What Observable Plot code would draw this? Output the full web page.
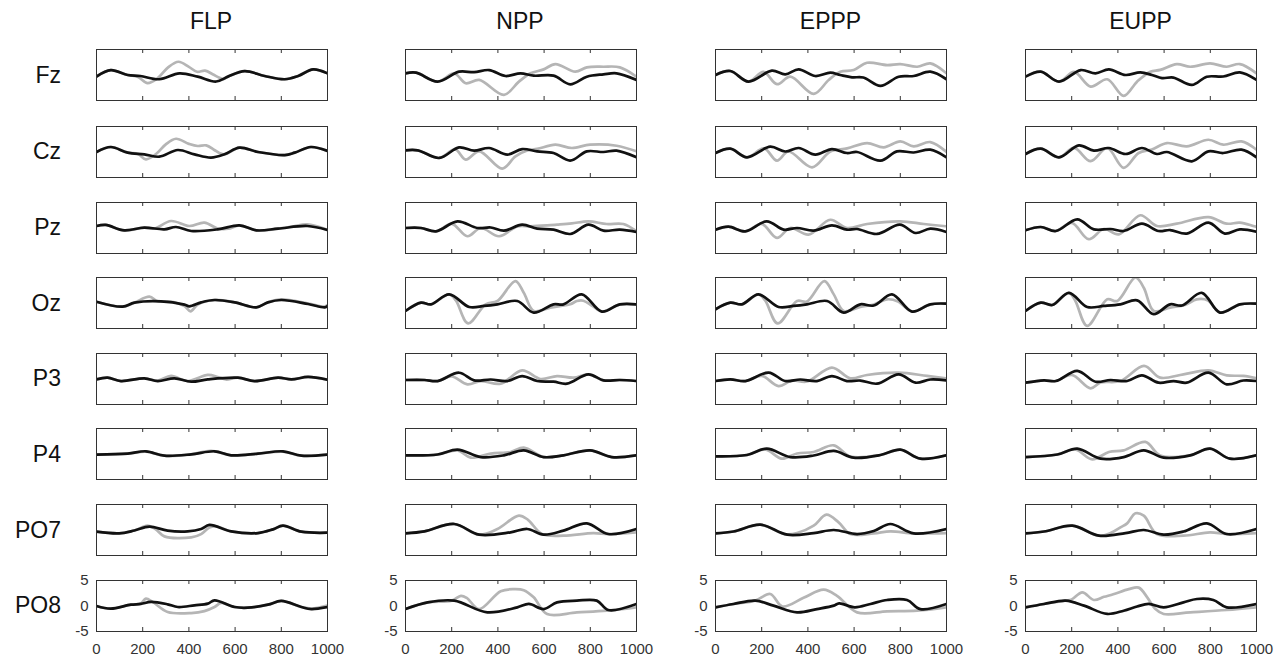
<!DOCTYPE html>
<html><head><meta charset="utf-8">
<script src="https://cdn.jsdelivr.net/npm/d3@7"></script>
<script src="https://cdn.jsdelivr.net/npm/@observablehq/plot@0.6"></script>
<style>
body{margin:0;background:#fff;font-family:"Liberation Sans",Arial,sans-serif}
#chart{position:relative;width:1283px;height:658px;overflow:hidden}
.lbl{position:absolute;font-size:23px;line-height:24px;color:#111;white-space:nowrap}
.pan{position:absolute}
</style></head><body><div id="chart"></div>
<script>
const conditions = ["FLP","NPP","EPPP","EUPP"];
const channels = ["Fz","Cz","Pz","Oz","P3","P4","PO7","PO8"];
const xTicks = [0,200,400,600,800,1000];
const yTicks = [-5,0,5];

// each series: [time (ms), amplitude] key points, one list per channel (Fz..PO8)
const FLP_black = [
 [[0,-0.3],[62,0.96],[135,0],[190,-0.2],[272,-0.83],[359,0.32],[438,-0.32],[518,-1.28],[569,-0.32],[641,0.77],[728,-0.19],[815,-0.83],[873,-0.19],[938,1.09],[1000,0.32]],
 [[0,0],[62,0.98],[135,-0.13],[207,-0.46],[272,-0.92],[352,0.39],[424,-0.46],[496,-1.1],[554,-0.46],[619,0.85],[699,0],[815,-0.6],[858,-0.13],[928,0.98],[1000,0.2]],
 [[0,0.39],[40,0.6],[120,-0.46],[207,0.07],[294,-0.26],[344,0.2],[410,-0.59],[525,-0.26],[619,0.52],[692,-0.46],[786,-0.13],[913,0.39],[1000,-0.39]],
 [[0,0.26],[113,-0.72],[164,0.07],[279,0.33],[381,-0.33],[402,-0.65],[453,0.13],[511,0.59],[598,0.13],[692,-0.85],[742,0.13],[800,0.59],[916,-0.2],[988,-0.85],[1000,-0.6]],
 [[0,-0.07],[48,0.26],[106,-0.4],[207,0.13],[265,-0.4],[337,0.13],[410,-0.53],[482,-0.07],[612,0.26],[684,-0.4],[786,0.26],[844,-0.07],[916,0.4],[1000,-0.13]],
 [[0,-0.13],[135,0.07],[214,0.53],[294,-0.33],[410,-0.07],[511,0.53],[583,-0.26],[699,0.07],[807,0.53],[887,-0.33],[1000,-0.13]],
 [[0,-0.33],[98,-0.66],[164,-0.1],[229,0.66],[308,-0.13],[395,-0.26],[453,0.2],[489,0.99],[583,-0.26],[699,-0.6],[764,0.13],[807,0.86],[887,-0.33],[1000,-0.53]],
 [[0,0],[62,-0.53],[149,0.26],[192,0.4],[236,0.8],[308,0.33],[352,-0.2],[424,0.13],[482,0.46],[511,1.12],[598,-0.2],[655,-0.33],[742,0.26],[800,0.99],[887,-0.2],[930,-0.6],[1000,-0.2]]
];
const FLP_gray = [
 [[0,-0.3],[62,0.96],[135,0],[180,-0.4],[221,-1.6],[265,-0.6],[310,1.5],[355,2.6],[400,1.6],[435,0.64],[470,0.85],[505,0.1],[530,-0.5],[550,-0.8],[569,-0.32],[641,0.77],[728,-0.19],[815,-0.83],[873,-0.19],[938,1.09],[1000,0.32]],
 [[0,0],[62,0.98],[135,-0.13],[180,-0.4],[214,-1.44],[260,-0.3],[300,1.5],[344,2.6],[400,1.6],[438,1.18],[475,1.3],[510,0.4],[532,-0.2],[554,-0.46],[619,0.85],[699,0],[815,-0.6],[858,-0.13],[928,0.98],[1000,0.2]],
 [[0,0.39],[40,0.6],[120,-0.46],[207,0.07],[250,-0.1],[323,1.37],[402,0.39],[467,1.05],[525,-0.1],[570,-0.15],[619,0.52],[692,-0.46],[786,-0.13],[850,0.3],[913,0.7],[1000,-0.39]],
 [[0,0.26],[113,-0.72],[164,0.07],[229,1.24],[265,0.33],[320,0.3],[381,-0.6],[407,-1.63],[438,-0.3],[511,0.59],[598,0.13],[692,-0.85],[742,0.13],[800,0.7],[916,-0.1],[988,-0.7],[1000,-0.4]],
 [[0,-0.07],[48,0.26],[106,-0.4],[207,0.13],[265,-0.3],[323,0.6],[395,-0.4],[482,0.8],[525,0.4],[560,-0.1],[612,0.26],[684,-0.4],[786,0.26],[844,-0.07],[916,0.4],[1000,-0.13]],
 [[0,-0.13],[135,0.07],[214,0.45],[294,-0.33],[410,-0.07],[496,0.6],[583,-0.26],[699,0.07],[807,0.45],[887,-0.33],[1000,-0.13]],
 [[0,-0.33],[98,-0.66],[164,-0.1],[221,0.86],[255,0.2],[294,-1.25],[410,-1.45],[453,-0.8],[489,0.5],[520,0.7],[583,-0.26],[699,-0.6],[764,0.13],[807,0.86],[887,-0.33],[1000,-0.53]],
 [[0,0],[62,-0.53],[149,0.26],[192,0.5],[214,1.45],[243,0.8],[308,-1.18],[410,-1.38],[467,-1],[511,-0.2],[540,0.6],[598,-0.2],[655,-0.33],[742,0.26],[800,0.99],[887,-0.2],[930,-0.5],[1000,0.1]]
];
const NPP_black = [
 [[0,0.33],[46,0.45],[139,-1.3],[232,0.65],[297,0.55],[362,0.97],[433,-0.2],[498,0.33],[555,-0.13],[641,-0.13],[713,-1.82],[785,-0.33],[857,0.13],[914,0.33],[1000,-0.97]],
 [[0,0.33],[53,0.33],[146,-1.17],[232,0.9],[297,0.26],[362,0.78],[441,-0.52],[505,0.58],[570,0.13],[641,-0.2],[713,-1.69],[785,0.13],[857,0],[914,0.26],[1000,-1.04]],
 [[0,0],[67,0],[132,-0.65],[225,1.3],[311,0],[369,0.1],[426,-0.52],[505,0.65],[570,-0.13],[641,-0.33],[713,-1.17],[792,0.65],[857,-0.52],[928,-0.33],[1000,-0.78]],
 [[0,-1.56],[67,0.07],[110,-0.26],[189,1.69],[276,-0.78],[340,-0.58],[398,-0.26],[484,0.39],[555,-1.88],[641,-0.26],[684,-0.26],[763,1.69],[850,-1.69],[928,-0.26],[1000,-0.26]],
 [[0,-0.2],[82,-0.2],[139,-0.4],[232,1.23],[297,-0.26],[369,-0.1],[441,-0.4],[505,0.58],[570,-0.4],[641,-0.53],[699,-0.92],[792,0.92],[857,-0.26],[928,-0.2],[1000,-0.4]],
 [[0,-0.26],[139,-0.1],[225,0.85],[326,-0.6],[426,-0.26],[512,0.72],[598,-0.6],[684,-0.26],[799,0.72],[893,-0.6],[1000,-0.26]],
 [[0,-0.66],[82,-0.26],[211,1.18],[319,-0.92],[455,-0.46],[527,0.2],[598,-0.92],[684,-0.13],[785,1.31],[878,-0.79],[1000,0.2]],
 [[0,-0.6],[96,0.72],[211,1.05],[354,-1.25],[484,-0.26],[534,0.4],[598,-0.6],[656,0.72],[742,1.05],[828,1.05],[878,-0.79],[1000,0.4]]
];
const NPP_gray = [
 [[0,0.33],[46,0.45],[139,-1.3],[211,0.3],[261,-1.62],[319,-0.97],[426,-3.9],[491,-1.3],[541,0.33],[598,1.1],[649,2.14],[735,0.65],[785,1.5],[857,1.62],[928,1.5],[1000,-0.33]],
 [[0,0.33],[53,0.33],[146,-1.17],[215,0.5],[261,-1.5],[319,0.13],[419,-3.25],[476,-0.84],[527,0.3],[570,0.6],[649,1.43],[720,0.78],[799,1.43],[914,1.23],[1000,0.13]],
 [[0,0],[67,0],[132,-0.65],[200,0.8],[268,-1.62],[326,0],[405,-1.62],[484,0.33],[541,0.33],[613,0.5],[656,0.65],[720,0.9],[792,1.3],[871,0.78],[943,0.78],[1000,-0.65]],
 [[0,-1.56],[67,0.07],[110,-0.26],[189,1.69],[218,0.5],[271,-4.0],[347,-0.26],[398,0.39],[476,4.3],[512,2.0],[555,-1.56],[627,-0.9],[713,-0.26],[742,0.39],[770,0.45],[810,-0.6],[850,-1.69],[928,-0.26],[1000,-0.26]],
 [[0,-0.2],[82,-0.2],[139,-0.4],[200,0.5],[268,-1.05],[326,-0.4],[412,-0.92],[505,1.7],[584,0],[656,0.58],[728,0.26],[792,0.92],[857,-0.26],[928,-0.2],[1000,-0.4]],
 [[0,-0.26],[139,-0.1],[225,0.7],[283,-0.72],[369,0.07],[455,0.4],[512,1.25],[598,-0.6],[684,-0.26],[799,0.72],[893,-0.6],[1000,-0.26]],
 [[0,-0.66],[82,-0.26],[211,1.18],[319,-0.92],[398,0.2],[491,2.83],[530,2.0],[591,-0.79],[684,-1.12],[813,-0.6],[878,-0.79],[1000,-0.46]],
 [[0,-0.6],[96,0.72],[200,1.05],[240,2.0],[265,1.6],[319,-0.6],[412,2.9],[470,3.3],[512,3.1],[555,1.7],[613,-1.58],[742,-1.25],[871,-0.92],[1000,-0.26]]
];
const EPPP_black = [
 [[0,0],[64,0.78],[143,-1.3],[244,0.84],[302,0.13],[360,1.1],[432,-0.2],[497,0.45],[540,0],[591,-0.45],[640,-0.5],[714,-2.14],[793,-0.33],[858,-0.2],[930,0.65],[1000,-0.84]],
 [[0,-0.2],[64,0.65],[136,-1.04],[237,1.04],[302,0.1],[360,0.78],[432,-0.52],[504,0.58],[569,-0.2],[613,0],[714,-1.69],[786,0.13],[858,-0.1],[930,0.45],[1000,-1.04]],
 [[0,-0.33],[56,0.26],[129,-0.65],[222,1.3],[295,-0.33],[353,0],[425,-0.52],[504,0.52],[569,-0.33],[613,-0.2],[699,-1.17],[798,0.65],[866,-0.98],[930,-0.13],[1000,-0.78]],
 [[0,-1.23],[64,0.07],[114,-0.26],[186,1.69],[273,-0.78],[338,-0.58],[396,-0.26],[483,0.39],[555,-1.88],[627,-0.26],[685,-0.5],[764,1.69],[851,-1.69],[930,-0.26],[1000,-0.13]],
 [[0,-0.4],[64,-0.07],[129,-0.4],[230,1.25],[302,-0.4],[367,-0.1],[439,-0.4],[504,0.58],[569,-0.4],[627,-0.3],[699,-0.92],[793,0.92],[866,-0.72],[930,-0.1],[1000,-0.26]],
 [[0,-0.46],[136,-0.2],[222,1.05],[324,-0.6],[425,-0.3],[512,0.6],[598,-0.72],[714,-0.2],[800,0.85],[887,-0.92],[1000,-0.26]],
 [[0,-0.66],[78,-0.3],[194,1.05],[311,-0.92],[425,-0.6],[512,0],[613,-0.79],[685,-0.2],[757,1.18],[858,-0.66],[1000,0.2]],
 [[0,-0.26],[78,0.4],[172,1.05],[251,0.07],[353,-1.25],[439,-0.6],[512,0.07],[535,0.52],[603,-0.26],[671,0.4],[743,1.18],[829,1.18],[887,-0.6],[1000,0.4]]
];
const EPPP_gray = [
 [[0,0],[64,0.78],[143,-1.3],[208,0.6],[266,-1.8],[324,-0.33],[425,-3.7],[490,-0.97],[540,0.65],[598,0.97],[656,2.4],[743,1.95],[800,2.14],[873,1.62],[930,2.27],[1000,0.33]],
 [[0,-0.2],[64,0.65],[136,-1.04],[210,0.7],[266,-1.69],[316,0.1],[418,-3.0],[497,0.1],[570,0.7],[656,1.75],[728,0.91],[800,2.08],[858,1.1],[930,1.95],[1000,0]],
 [[0,-0.33],[56,0.26],[129,-0.65],[200,0.8],[266,-1.95],[324,0],[403,-1.3],[497,1.62],[569,0],[656,0.78],[800,1.3],[902,0.78],[1000,0.33]],
 [[0,-1.23],[64,0.07],[114,-0.26],[186,1.69],[215,0.5],[269,-4.0],[353,0.39],[396,0.3],[471,4.3],[512,1.69],[555,-1.56],[627,-0.78],[685,-0.3],[743,0.72],[790,0.3],[851,-1.69],[930,-0.26],[1000,-0.13]],
 [[0,-0.4],[64,-0.07],[129,-0.4],[200,0.6],[273,-1.38],[331,-0.3],[396,-0.5],[504,2.24],[584,0.13],[656,0.79],[793,1.25],[916,0.6],[1000,0.13]],
 [[0,-0.46],[136,-0.2],[215,0.9],[287,-0.92],[353,0.1],[425,0.4],[512,1.7],[584,-0.5],[714,-0.2],[800,0.85],[887,-0.92],[1000,-0.26]],
 [[0,-0.66],[78,-0.3],[194,1.05],[300,-0.8],[353,-0.6],[425,0.85],[480,3.0],[533,1.5],[584,-0.79],[685,-0.66],[757,-0.26],[858,-0.66],[1000,-0.6]],
 [[0,-0.26],[78,0.4],[172,1.05],[237,2.35],[290,-0.1],[381,1.6],[468,3.2],[526,2.0],[613,-1.25],[743,-1.05],[873,-0.92],[1000,-0.26]]
];
const EUPP_black = [
 [[0,-0.33],[66,0.65],[145,-1.3],[239,0.97],[303,0.33],[361,1.1],[433,0],[497,0.52],[547,0],[591,-0.6],[640,-0.5],[720,-1.95],[785,-0.33],[856,-0.3],[928,0.52],[1000,-0.97]],
 [[0,-0.39],[66,0.65],[145,-1.04],[231,1.3],[296,0.26],[361,0.78],[433,-0.39],[504,0.78],[569,-0.39],[612,0],[720,-1.82],[792,0.13],[856,-0.2],[935,0.45],[1000,-1.04]],
 [[0,-0.46],[66,0.2],[131,-0.59],[224,1.69],[296,-0.26],[368,-0.2],[425,-0.59],[504,0.85],[576,-0.59],[626,-0.4],[698,-1.1],[792,1.04],[863,-1.1],[928,-0.26],[1000,-0.72]],
 [[0,-1.56],[66,0.07],[116,-0.39],[188,2.0],[267,-0.78],[339,-0.58],[411,-0.26],[483,0.52],[555,-2.2],[626,-0.26],[677,-0.5],[763,2.0],[842,-1.88],[928,-0.26],[1000,-0.13]],
 [[0,-0.72],[80,-0.26],[131,-0.4],[224,1.58],[303,-0.53],[368,-0.2],[440,-0.4],[504,0.72],[576,-0.72],[641,-0.4],[698,-0.72],[792,1.25],[871,-1.05],[943,-0.3],[1000,-0.4]],
 [[0,-0.6],[138,-0.1],[224,1.05],[325,-0.92],[425,-0.6],[512,0.72],[598,-0.72],[713,-0.26],[799,1.05],[885,-0.92],[1000,-0.26]],
 [[0,-0.66],[80,-0.3],[203,0.85],[318,-1.12],[433,-0.6],[512,0],[598,-0.92],[684,-0.3],[785,1.31],[871,-0.79],[1000,0.2]],
 [[0,-0.26],[80,0.4],[174,1.05],[253,0.07],[354,-1.56],[425,-0.92],[483,-0.1],[533,0.4],[598,-0.26],[684,0.72],[742,1.37],[813,1.18],[871,-0.26],[1000,0.4]]
];
const EUPP_gray = [
 [[0,-0.33],[66,0.65],[145,-1.3],[210,0.6],[282,-2.27],[354,-0.84],[425,-4.1],[483,-1.3],[540,0.65],[583,1.0],[655,2.14],[713,1.62],[799,2.27],[871,1.62],[928,2.14],[1000,0.33]],
 [[0,-0.39],[66,0.65],[145,-1.04],[210,0.8],[282,-1.8],[354,0.78],[425,-3.1],[490,-0.2],[547,0.5],[612,1.75],[698,1.1],[792,2.4],[856,1.43],[935,2.08],[1000,0.45]],
 [[0,-0.46],[66,0.2],[131,-0.59],[200,1.0],[274,-2.2],[339,-0.2],[404,-1.24],[497,2.5],[569,0.39],[655,0.85],[792,2.14],[871,0.85],[928,1.04],[1000,0.2]],
 [[0,-1.56],[66,0.07],[116,-0.39],[188,2.0],[215,0.5],[267,-4.5],[354,0.72],[397,0.39],[476,5.0],[512,3.0],[555,-1.56],[626,-0.9],[690,-0.4],[741,0.72],[790,0.5],[842,-1.88],[928,-0.26],[1000,-0.13]],
 [[0,-0.72],[80,-0.26],[131,-0.4],[200,0.8],[282,-1.84],[325,-0.7],[411,-0.4],[513,2.56],[583,0.26],[684,0.92],[792,1.7],[871,0.72],[943,0.6],[1000,0.13]],
 [[0,-0.6],[138,-0.1],[215,0.9],[289,-1.05],[361,0.4],[425,0.72],[519,2.37],[583,-0.3],[713,-0.26],[799,1.05],[885,-0.92],[1000,-0.26]],
 [[0,-0.66],[80,-0.3],[203,0.85],[318,-1.12],[368,-0.6],[411,0.52],[440,1.3],[476,3.27],[512,2.8],[569,-0.79],[684,-1.12],[799,-0.46],[871,-0.79],[1000,-0.6]],
 [[0,-0.26],[80,0.4],[174,1.05],[200,1.3],[246,2.68],[296,1.18],[340,1.8],[380,2.3],[447,3.3],[490,3.6],[527,1.7],[560,-0.5],[598,-1.56],[713,-1.25],[871,-0.79],[1000,-0.26]]
];

const series = {FLP:[FLP_gray,FLP_black], NPP:[NPP_gray,NPP_black], EPPP:[EPPP_gray,EPPP_black], EUPP:[EUPP_gray,EUPP_black]};

// layout
const colLeft = [95.5, 404.5, 715, 1025];
const rowTop = [49, 125.5, 201.5, 277, 352.5, 428, 504, 579.5];
const PW = 231, PH = 51;
const mL = 36, mR = 14, mT = 8, mB = 30;
const chart = document.getElementById("chart");

conditions.forEach((c, ci) => {
  const t = document.createElement("div");
  t.className = "lbl";
  t.textContent = c;
  t.style.left = (colLeft[ci] + PW/2) + "px";
  t.style.top = "9px";
  t.style.transform = "translateX(-50%)";
  chart.appendChild(t);
});
channels.forEach((ch, ri) => {
  const t = document.createElement("div");
  t.className = "lbl";
  t.textContent = ch;
  t.style.left = "0px";
  t.style.width = "61px";
  t.style.textAlign = "right";
  t.style.top = (rowTop[ri] + PH/2 - 12) + "px";
  chart.appendChild(t);
});

conditions.forEach((c, ci) => {
  const [G, K] = series[c];
  channels.forEach((ch, ri) => {
    const bottom = ri === channels.length - 1;
    const marks = [
      Plot.line(G[ri], {x: d => d[0], y: d => d[1], stroke: "#b5b5b5", strokeWidth: 2.7, curve: "catmull-rom", clip: true}),
      Plot.line(K[ri], {x: d => d[0], y: d => d[1], stroke: "#111", strokeWidth: 2.7, curve: "catmull-rom", clip: true}),
      Plot.ruleX(xTicks, {insetTop: PH - 4, stroke: "#333"}),
      Plot.ruleX(xTicks, {insetBottom: PH - 4, stroke: "#333"}),
      Plot.frame({stroke: "#333"})
    ];
    if (bottom) {
      marks.push(Plot.axisX(xTicks, {tickSize: 0, tickPadding: 12, fontSize: 15, fill: "#333", label: null, tickFormat: d => String(d)}));
      marks.push(Plot.axisY(yTicks, {tickSize: 0, tickPadding: 8, fontSize: 15, fill: "#333", label: null, tickFormat: d => String(d)}));
    }
    const p = Plot.plot({
      width: PW + mL + mR, height: PH + mT + mB,
      marginLeft: mL, marginRight: mR, marginTop: mT, marginBottom: mB,
      x: {domain: [0, 1000], ...(bottom ? {} : {axis: null})},
      y: {domain: [-5, 5], ...(bottom ? {} : {axis: null})},
      style: {background: "transparent", overflow: "visible", fontFamily: "'Liberation Sans', Arial, sans-serif"},
      marks
    });
    p.classList.add("pan");
    p.style.left = (colLeft[ci] - mL) + "px";
    p.style.top = (rowTop[ri] - mT) + "px";
    chart.appendChild(p);
  });
});
</script></body></html>
